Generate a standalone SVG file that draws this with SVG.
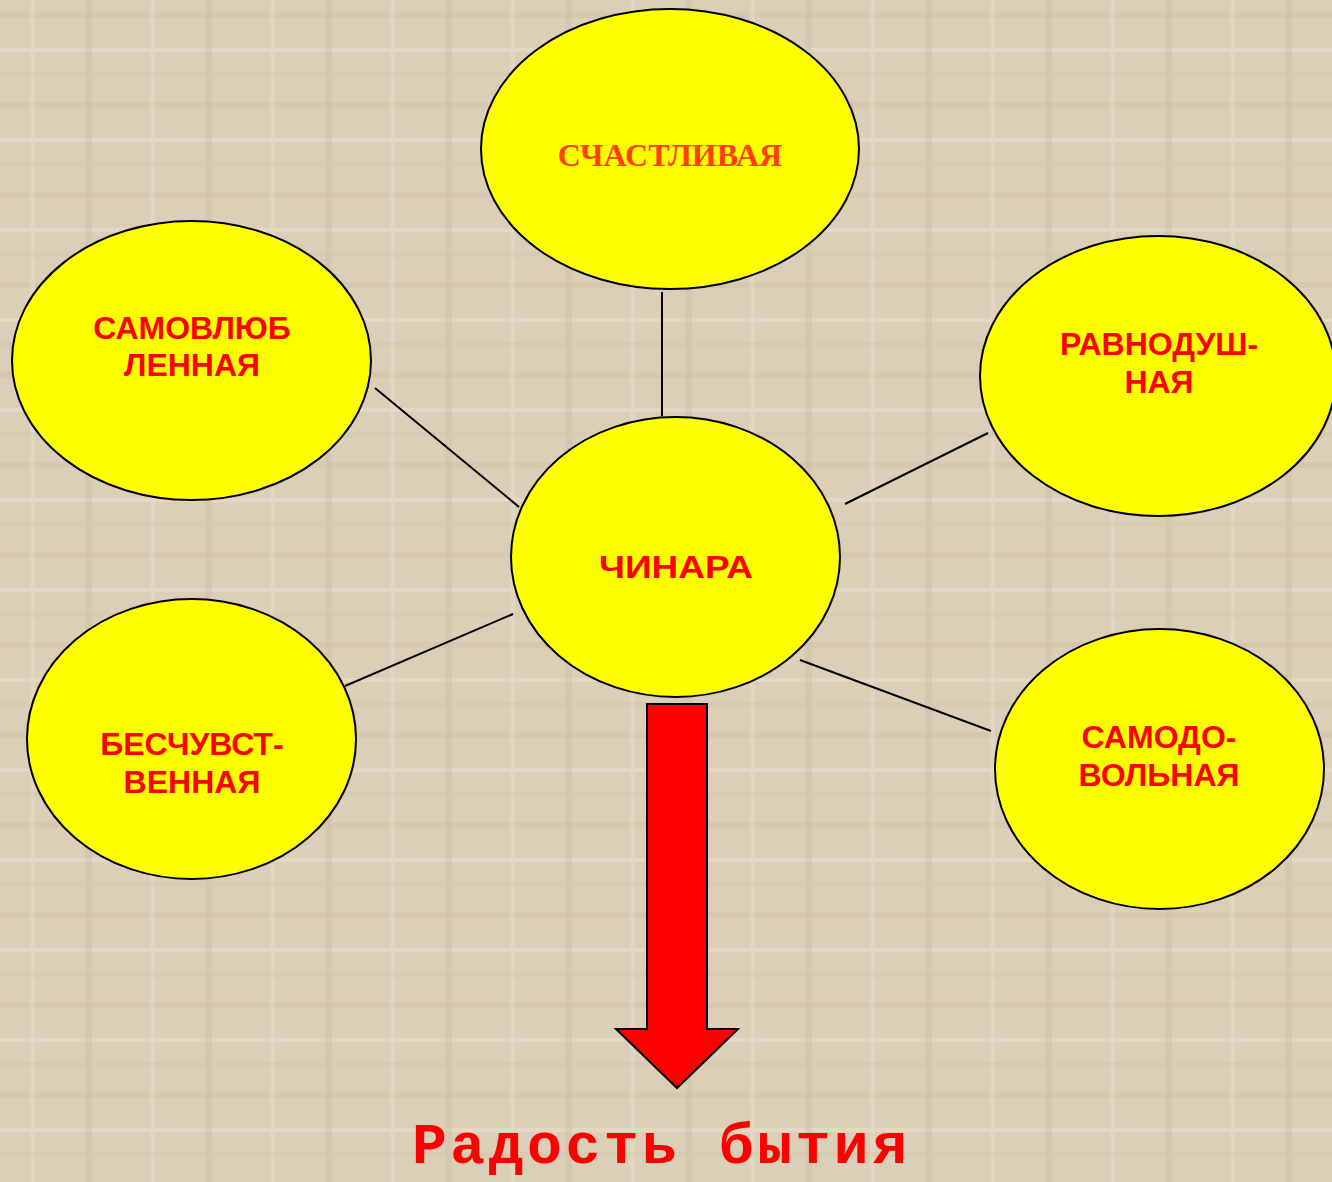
<svg xmlns="http://www.w3.org/2000/svg" width="1332" height="1182" viewBox="0 0 1332 1182">
<defs>
<pattern id="tex" width="120" height="90" patternUnits="userSpaceOnUse">
<rect width="120" height="90" fill="#dccfb8"/>
<rect x="0" y="12" width="120" height="6" fill="#d2c4aa" opacity="0.6"/>
<rect x="0" y="48" width="120" height="4" fill="#e8dcc6" opacity="0.7"/>
<rect x="30" y="0" width="5" height="90" fill="#e6dac4" opacity="0.6"/>
<rect x="85" y="0" width="7" height="90" fill="#d0c2a8" opacity="0.5"/>
<rect x="0" y="72" width="120" height="5" fill="#d4c7ad" opacity="0.5"/>
</pattern>
<style>
.node ellipse{fill:#ffff00;stroke:#000;stroke-width:2}
.lbl{font-family:"Liberation Sans",Arial,sans-serif;font-weight:bold;font-size:32px;fill:#ff0000;text-anchor:middle}
.conn line{stroke:#000;stroke-width:2}
</style>
</defs>
<rect width="1332" height="1182" fill="url(#tex)"/>
<g id="connectors" class="conn">
<line x1="662" y1="292" x2="662" y2="416"/>
<line x1="375" y1="388" x2="519" y2="507"/>
<line x1="988" y1="433" x2="845" y2="504"/>
<line x1="345" y1="686" x2="513" y2="614"/>
<line x1="800" y1="660" x2="991" y2="731"/>
</g>
<g id="n-happy" class="node">
<ellipse cx="670" cy="149" rx="189" ry="140"/>
<text x="670" y="166" text-anchor="middle" font-family="'Liberation Serif','Times New Roman',serif" font-weight="bold" font-size="32" fill="#ff4000">СЧАСТЛИВАЯ</text>
</g>
<g id="n-narc" class="node">
<ellipse cx="191.5" cy="360.5" rx="179.5" ry="139.5"/>
<text class="lbl" x="192" y="339">САМОВЛЮБ</text>
<text class="lbl" x="192" y="376">ЛЕННАЯ</text>
</g>
<g id="n-indiff" class="node">
<ellipse cx="1158" cy="376" rx="178" ry="140"/>
<text class="lbl" x="1159" y="355">РАВНОДУШ-</text>
<text class="lbl" x="1159" y="393">НАЯ</text>
</g>
<g id="n-chinara" class="node">
<ellipse cx="675.5" cy="557" rx="164.5" ry="140"/>
<text class="lbl" x="676" y="578" font-size="36" textLength="154" lengthAdjust="spacingAndGlyphs">ЧИНАРА</text>
</g>
<g id="n-insens" class="node">
<ellipse cx="191.5" cy="739" rx="164.5" ry="140"/>
<text class="lbl" x="192" y="755">БЕСЧУВСТ-</text>
<text class="lbl" x="192" y="793">ВЕННАЯ</text>
</g>
<g id="n-smug" class="node">
<ellipse cx="1159.5" cy="769" rx="164.5" ry="140"/>
<text class="lbl" x="1159" y="748">САМОДО-</text>
<text class="lbl" x="1159" y="786">ВОЛЬНАЯ</text>
</g>
<g id="arrow">
<polygon points="647,704 707,704 707,1029 738,1029 677,1088 616,1029 647,1029" fill="#ff0000" stroke="#000" stroke-width="2"/>
</g>
<g id="result">
<text x="412" y="1163" font-family="'Liberation Mono','Courier New',monospace" font-weight="bold" font-size="58" fill="#ff0000" textLength="495" lengthAdjust="spacing">Радость бытия</text>
</g>
</svg>
